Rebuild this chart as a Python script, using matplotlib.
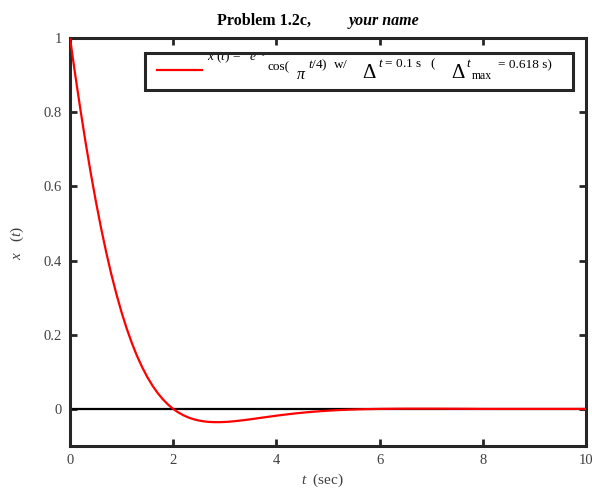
import numpy as np
import matplotlib
matplotlib.use('Agg')
import matplotlib.pyplot as plt
from matplotlib.transforms import Bbox, TransformedBbox

t = [round(0.1 * i, 1) for i in range(101)]
x = [1.0000, 0.9020, 0.8087, 0.7203, 0.6375, 0.5604, 0.4890, 0.4234, 0.3635, 0.3092,
     0.2601, 0.2162, 0.1770, 0.1424, 0.1120, 0.0854, 0.0624, 0.0426, 0.0259, 0.0117,
     0.0000, -0.0096, -0.0173, -0.0234, -0.0280, -0.0314, -0.0337, -0.0351, -0.0357, -0.0357,
     -0.0352, -0.0343, -0.0330, -0.0314, -0.0297, -0.0279, -0.0260, -0.0240, -0.0221, -0.0202,
     -0.0183, -0.0165, -0.0148, -0.0132, -0.0117, -0.0103, -0.0090, -0.0078, -0.0067, -0.0057,
     -0.0048, -0.0040, -0.0032, -0.0026, -0.0021, -0.0016, -0.0011, -0.0008, -0.0005, -0.0002,
     0.0000, 0.0002, 0.0003, 0.0004, 0.0005, 0.0006, 0.0006, 0.0006, 0.0006, 0.0006,
     0.0006, 0.0006, 0.0005, 0.0005, 0.0004, 0.0004, 0.0003, 0.0003, 0.0002, 0.0001,
     0.0000, 0.0000, 0.0000, 0.0000, 0.0000, 0.0000, 0.0000, 0.0000, 0.0000, 0.0000,
     0.0000, 0.0000, 0.0000, 0.0000, 0.0000, 0.0000, 0.0000, 0.0000, 0.0000, 0.0000,
     0.0000]
xticks = [0, 2, 4, 6, 8, 10]
yticks = [0, 0.2, 0.4, 0.6, 0.8, 1]
ytick_labels = ['0', '0.2', '0.4', '0.6', '0.8', '1']

plt.rcParams['font.family'] = ['Liberation Serif', 'DejaVu Serif']
plt.rcParams['mathtext.fontset'] = 'custom'
plt.rcParams['mathtext.rm'] = 'Liberation Serif'
plt.rcParams['mathtext.it'] = 'Liberation Serif:italic'

W, H = 592, 493
fig = plt.figure(figsize=(W / 100, H / 100), dpi=100)
ax = fig.add_axes([70 / W, 1 - 446 / H, 516 / W, 408 / H])


def px(xp, yp):
    return xp / W, 1 - yp / H


line, = ax.plot(t, x, color='#ff0000', lw=1.6, zorder=3)
ax.axhline(0, color='black', lw=1.6, zorder=2)

ax.set_xlim(0, 10)
ax.set_ylim(-0.1, 1)
ax.set_xticks(xticks)
ax.set_yticks(yticks)
ax.set_yticklabels(ytick_labels)
ax.tick_params(direction='in', length=5, width=2, top=True, right=True,
               labelsize=10.5, labelcolor='#404040', color='#262626', pad=6)
for s in ax.spines.values():
    s.set_linewidth(2.2)
    s.set_color('#262626')

# title in two parts
fig.text(*px(264, 25), 'Problem 1.2c,', ha='center', va='baseline',
         fontsize=11.5, fontweight='bold')
fig.text(*px(384, 25), 'your name', ha='center', va='baseline',
         fontsize=11.5, fontweight='bold', style='italic')

fig.text(*px(17, 243), r'$x$   ($t$)', rotation=90, ha='center', va='center',
         fontsize=11, color='#404040')
fig.text(*px(322, 484), r'$t$  (sec)', ha='center', va='baseline',
         fontsize=11, color='#404040')

leg = ax.legend([line], ['      '], loc='upper left',
                bbox_to_anchor=(0.1453, 0.8676, 0.8295, 0.0956), mode='expand',
                borderaxespad=0, fontsize=9, borderpad=1.0, handlelength=3.6,
                fancybox=False, framealpha=1, edgecolor='#262626')
leg.get_frame().set_linewidth(2.2)

clip = TransformedBbox(Bbox([[147 / W, 1 - 90 / H], [573 / W, 1 - 55 / H]]), fig.transFigure)
pieces = [
    (207, 61.5, r'$x$ ($t$) =   $e^{-t}$', 9.5),
    (268, 70, 'cos(', 9.5),
    (296, 79, r'$\pi$', 11.5),
    (308, 68, r'$t$/4)  w/', 9.5),
    (362, 78, r'$\Delta$', 15),
    (378, 67, r'$t$ = 0.1 s   (', 9.5),
    (451, 78, r'$\Delta$', 15),
    (466, 67, r'$t$', 9.5),
    (472, 79, 'max', 8.5),
    (498, 68, '= 0.618 s)', 9.5),
]
for xp, yp, s, fs in pieces:
    tx = fig.text(*px(xp, yp), s, ha='left', va='baseline', fontsize=fs, zorder=10)
    tx.set_clip_box(clip)
    tx.set_clip_on(True)

fig.savefig('out.png', dpi=100)
